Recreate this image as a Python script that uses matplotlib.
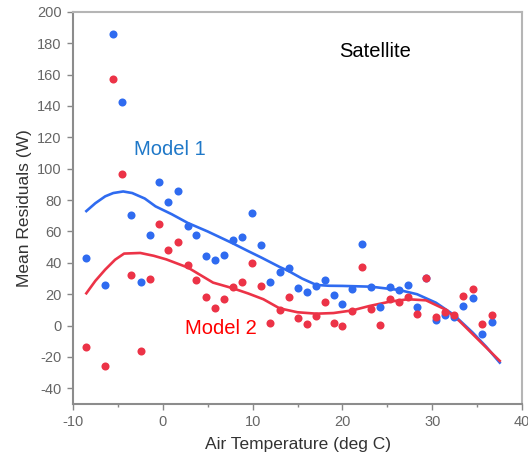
import matplotlib
matplotlib.use("Agg")
import matplotlib.pyplot as plt
from matplotlib.ticker import MultipleLocator

plt.rcParams['font.family'] = ['Liberation Sans', 'DejaVu Sans']
plt.rcParams['axes.unicode_minus'] = False

# binned air temperature (deg C), shared by both models
temp = [-8.5, -6.4, -5.5, -4.5, -3.5, -2.4, -1.4, -0.4, 0.6, 1.7, 2.8, 3.7,
        4.8, 5.8, 6.8, 7.8, 8.8, 9.9, 10.9, 11.9, 13.0, 14.0, 15.0, 16.0,
        17.1, 18.1, 19.1, 20.0, 21.1, 22.2, 23.2, 24.2, 25.3, 26.3, 27.3,
        28.3, 29.3, 30.4, 31.4, 32.4, 33.4, 34.5, 35.5, 36.6]

model1 = [43.3, 26, 186, 142.5, 70.7, 27.6, 58, 91.5, 79, 86, 63.7, 58,
          44.4, 41.6, 45, 54.3, 56.2, 72, 51.2, 27.8, 34.2, 36.8, 24.2, 21.5,
          25.5, 28.9, 19.7, 13.6, 23.5, 51.8, 24.8, 12.1, 24.4, 22.6, 26,
          11.9, 30.4, 3.6, 6.8, 5.3, 12.7, 17.4, -5.1, 2.4]

model2 = [-13.5, -26, 157, 96.6, 32.5, -16.4, 30, 65, 48.4, 53.6, 38.4, 29.3,
          18, 11.5, 16.8, 24.8, 27.8, 40, 25.3, 1.6, 10.2, 18.2, 4.9, 0.8,
          6.2, 15.3, 1.9, -0.2, 9.4, 37.4, 10.6, 0.4, 17, 15.3, 18.5,
          7.2, 30.4, 5.5, 8.9, 6.8, 18.7, 23.1, 0.8, 6.8]

# smoothed fits
fit1_x = [-8.5, -7.5, -6.4, -5.5, -4.4, -3.4, -2.0, -0.8, 1.0, 2.8, 5.0,
          7.7, 9.5, 11.0, 13.0, 14.0, 15.5, 17.1, 18.5, 20.0, 23.2, 26.3,
          28.3, 30.4, 32.4, 34.5, 36.0, 37.5]
fit1_y = [73, 78, 82.4, 84.5, 85.5, 84.5, 81, 76, 71, 65.4, 60,
          52.7, 47.5, 43.3, 37.4, 34.8, 30, 25.9, 25.4, 25.3, 24.8, 22.7,
          20, 14.6, 6.8, -4.5, -13.5, -23.6]

fit2_x = [-8.5, -7.5, -6.4, -5.3, -4.3, -2.5, -1.0, 0.4, 2.8, 5.6, 7.8,
          9.5, 11.2, 13.0, 15.0, 17.1, 19.0, 21.1, 23.0, 25.3, 27.3, 29.3,
          31.4, 33.0, 34.5, 36.0, 37.5]
fit2_y = [20.6, 28.5, 35.7, 42, 45.9, 46.3, 44.5, 42.2, 37, 27.4, 23.8,
          20.5, 16.8, 11, 8.5, 7.6, 8, 9.7, 12.5, 15.3, 16.8, 16.1,
          10.4, 3, -5.5, -14, -22.5]

blue = '#2F6BF0'
red = '#EC3347'

fig = plt.figure(figsize=(5.28, 4.55), dpi=100)
ax = fig.add_axes([0.138, 0.112, 0.851, 0.862])

ax.plot(fit1_x, fit1_y, color=blue, lw=1.9, zorder=2)
ax.plot(fit2_x, fit2_y, color=red, lw=1.9, zorder=2)
ax.plot(temp, model1, 'o', color=blue, ms=5.8, mew=0, zorder=3)
ax.plot(temp, model2, 'o', color=red, ms=5.8, mew=0, zorder=4)

ax.text(0.8, 112, 'Model 1', color='#1F78C8', fontsize=14.5, ha='center', va='center')
ax.text(6.5, -2, 'Model 2', color='#FF0000', fontsize=14.5, ha='center', va='center')
ax.text(23.6, 175, 'Satellite', color='black', fontsize=14.5, ha='center', va='center')

ax.set_xlim(-10, 40)
ax.set_ylim(-50, 200)
ax.xaxis.set_major_locator(MultipleLocator(10))
ax.xaxis.set_minor_locator(MultipleLocator(5))
ax.yaxis.set_major_locator(MultipleLocator(20))
ax.tick_params(which='major', length=4.5, width=1, color='#888888',
               labelcolor='#666666', labelsize=10.5)
ax.tick_params(which='minor', length=2.5, width=1, color='#888888')

ax.set_xlabel('Air Temperature (deg C)', fontsize=12.5, color='#333333', labelpad=6)
ax.set_ylabel('Mean Residuals (W)', fontsize=12.5, color='#333333', labelpad=4)

for side in ['left', 'bottom']:
    ax.spines[side].set_color('#8C8C8C')
    ax.spines[side].set_linewidth(1.5)
for side in ['top', 'right']:
    ax.spines[side].set_color('#B5B5B5')
    ax.spines[side].set_linewidth(1.5)

fig.savefig('out.png', dpi=100)
